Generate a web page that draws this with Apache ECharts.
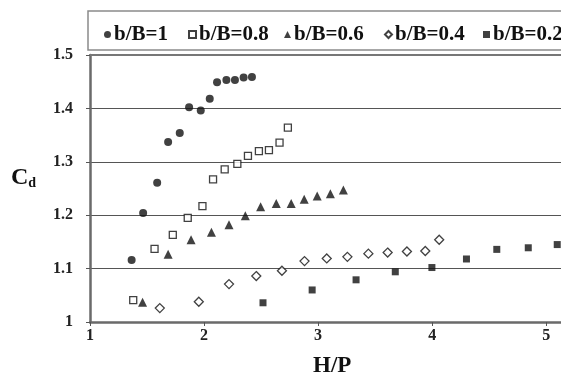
<!DOCTYPE html>
<html>
<head>
<meta charset="utf-8">
<script src="https://cdn.jsdelivr.net/npm/echarts@6/dist/echarts.min.js"></script>
<style>
  html, body { margin: 0; padding: 0; background: #fff; }
  #main { width: 561px; height: 374px; }
</style>
</head>
<body>
<div id="main"></div>
<script>
// H/P (x) and Cd (y)
const names = ['b/B=1', 'b/B=0.8', 'b/B=0.6', 'b/B=0.4', 'b/B=0.2'];

const hp10 = [1.365, 1.466, 1.589, 1.685, 1.787, 1.869, 1.971, 2.050, 2.114, 2.196, 2.271, 2.347, 2.420];
const cd10 = [1.116, 1.204, 1.261, 1.337, 1.354, 1.402, 1.396, 1.418, 1.449, 1.453, 1.453, 1.458, 1.459];

const hp08 = [1.379, 1.566, 1.726, 1.857, 1.986, 2.079, 2.181, 2.292, 2.385, 2.481, 2.569, 2.662, 2.735];
const cd08 = [1.041, 1.137, 1.163, 1.195, 1.217, 1.267, 1.286, 1.296, 1.311, 1.320, 1.322, 1.336, 1.364];

const hp06 = [1.461, 1.685, 1.886, 2.065, 2.219, 2.362, 2.496, 2.633, 2.764, 2.878, 2.992, 3.108, 3.222];
const cd06 = [1.037, 1.127, 1.154, 1.168, 1.182, 1.199, 1.216, 1.222, 1.222, 1.230, 1.236, 1.240, 1.247];

const hp04 = [1.612, 1.954, 2.219, 2.458, 2.683, 2.881, 3.076, 3.257, 3.441, 3.610, 3.779, 3.940, 4.062];
const cd04 = [1.026, 1.038, 1.071, 1.086, 1.096, 1.114, 1.119, 1.122, 1.128, 1.130, 1.132, 1.133, 1.154];

const hp02 = [2.517, 2.948, 3.333, 3.677, 3.998, 4.301, 4.567, 4.843, 5.097];
const cd02 = [1.036, 1.060, 1.079, 1.094, 1.102, 1.118, 1.136, 1.139, 1.145];

const xTicks = [1, 2, 3, 4, 5];
const yTicks = [1, 1.1, 1.2, 1.3, 1.4, 1.5];

const pairs = (xs, ys) => xs.map((x, i) => [x, ys[i]]);

const serif = '"Liberation Serif", "DejaVu Serif", serif';
const ink = '#111';

const myChart = echarts.init(document.getElementById('main'));

// one legend per item so each sits where it does in the figure
const legendLeft = [99, 183, 279, 379, 478];
const legends = names.map((n, i) => ({
  data: [n],
  left: legendLeft[i],
  top: 19,
  itemWidth: 7,
  itemHeight: 7,
  textStyle: { fontFamily: serif, fontSize: 21, fontWeight: 'bold', color: ink, padding: [0, 0, 0, -2] }
}));

const markers = [
  { symbol: 'circle', size: 8, filled: true },
  { symbol: 'rect', size: 7, filled: false },
  { symbol: 'triangle', size: 9, filled: true },
  { symbol: 'diamond', size: 9, filled: false },
  { symbol: 'rect', size: 7, filled: true }
];
const datas = [pairs(hp10, cd10), pairs(hp08, cd08), pairs(hp06, cd06), pairs(hp04, cd04), pairs(hp02, cd02)];

const option = {
  backgroundColor: '#fff',
  animation: false,
  legend: legends,
  grid: { left: 90, top: 55, right: 0, bottom: 52, containLabel: false },
  xAxis: [
    {
      type: 'value',
      min: 1,
      max: 5.13,
      interval: 1,
      axisLine: { show: true, onZero: false, lineStyle: { color: '#6a6a6a', width: 2.5 } },
      axisTick: { show: true, inside: false, length: 4, lineStyle: { color: '#555' } },
      axisLabel: {
        fontFamily: serif, fontSize: 16, fontWeight: 'bold', color: '#222', margin: 6,
        showMaxLabel: false,
        formatter: v => (xTicks.indexOf(v) >= 0 ? String(v) : '')
      },
      splitLine: { show: false }
    },
    {
      type: 'value',
      position: 'top',
      min: 1,
      max: 5.13,
      axisLine: { show: true, lineStyle: { color: '#777', width: 2 } },
      axisTick: { show: false },
      axisLabel: { show: false },
      splitLine: { show: false }
    }
  ],
  yAxis: {
    type: 'value',
    min: 1,
    max: 1.5,
    interval: 0.1,
    axisLine: { show: true, onZero: false, lineStyle: { color: '#6a6a6a', width: 2.5 } },
    axisTick: { show: true, inside: false, length: 4, lineStyle: { color: '#555' } },
    axisLabel: {
      fontFamily: serif, fontSize: 16, fontWeight: 'bold', color: '#222', margin: 17,
      formatter: v => {
        const t = yTicks.find(k => Math.abs(k - v) < 1e-6);
        return t === undefined ? '' : String(t);
      }
    },
    splitLine: { show: true, lineStyle: { color: '#555', width: 1 } }
  },
  graphic: [
    {
      type: 'rect',
      shape: { x: 88, y: 11, width: 480, height: 39 },
      style: { fill: 'none', stroke: '#8a8a8a', lineWidth: 1.5 },
      silent: true
    },
    {
      type: 'text',
      left: 313,
      top: 355,
      style: { text: 'H/P', fontFamily: serif, fontSize: 23, fontWeight: 'bold', fill: ink }
    },
    {
      type: 'text',
      left: 11,
      top: 166,
      style: {
        text: '{c|C}{d|d}',
        rich: {
          c: { fontFamily: serif, fontSize: 24, fontWeight: 'bold', fill: ink, color: ink },
          d: { fontFamily: serif, fontSize: 14, fontWeight: 'bold', fill: ink, color: ink, verticalAlign: 'bottom', padding: [8, 0, 0, 0] }
        }
      }
    }
  ],
  series: names.map((n, i) => ({
    name: n,
    type: 'scatter',
    data: datas[i],
    symbol: markers[i].symbol,
    symbolSize: markers[i].size,
    itemStyle: {
      color: markers[i].filled ? ink : '#fff',
      borderColor: ink,
      borderWidth: markers[i].filled ? 0 : 1.3
    }
  }))
};

option && myChart.setOption(option);
</script>
</body>
</html>
